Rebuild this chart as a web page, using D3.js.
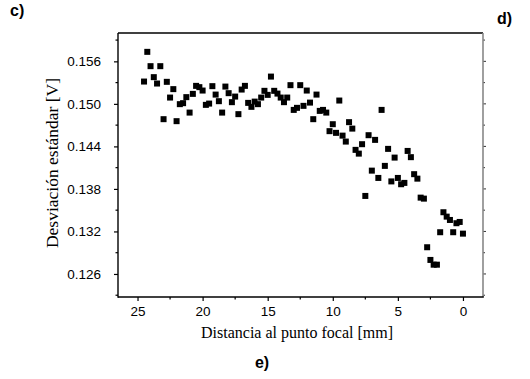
<!DOCTYPE html>
<html lang="es">
<head>
  <meta charset="UTF-8" />
  <title>Desviación estándar vs distancia al punto focal</title>
  <script src="https://cdn.jsdelivr.net/npm/d3@7/dist/d3.min.js"></script>
  <style>
    html, body { margin: 0; padding: 0; background: #fff; }
    #chart { width: 530px; height: 379px; }
    .tick-label { font-family: "Liberation Sans", Arial, sans-serif; font-size: 13.5px; fill: #000; }
    .axis-title { font-family: "Liberation Serif", "Times New Roman", serif; fill: #000; }
    .panel-label { font-family: "Liberation Sans", Arial, sans-serif; font-size: 16px; font-weight: bold; fill: #000; }
  </style>
</head>
<body>
  <div id="chart"></div>
  <script>
    // distancia al punto focal [mm]
    const distancia = [
      24.5, 24.25, 24, 23.75, 23.5, 23.25, 23, 22.75, 22.5, 22.25,
      22, 21.75, 21.5, 21.25, 21, 20.75, 20.5, 20.25, 20, 19.75,
      19.5, 19.25, 19, 18.75, 18.5, 18.25, 18, 17.75, 17.5, 17.25,
      17, 16.75, 16.5, 16.25, 16, 15.75, 15.5, 15.25, 15, 14.75,
      14.5, 14.25, 14, 13.75, 13.5, 13.25, 13, 12.75, 12.5, 12.25,
      12, 11.75, 11.5, 11.25, 11, 10.75, 10.5, 10.25, 10, 9.75,
      9.5, 9.25, 9, 8.75, 8.5, 8.25, 8, 7.75, 7.5, 7.25,
      7, 6.75, 6.5, 6.25, 6, 5.75, 5.5, 5.25, 5, 4.75,
      4.5, 4.25, 4, 3.75, 3.5, 3.25, 3, 2.75, 2.5, 2.25,
      2, 1.75, 1.5, 1.25, 1, 0.75, 0.5, 0.25, 0
    ];

    // desviación estándar [V]
    const desviacion = [
      0.15315, 0.15734, 0.15532, 0.15377, 0.15287, 0.15532, 0.14784, 0.15311, 0.15089, 0.15208,
      0.14756, 0.14996, 0.15010, 0.15095, 0.14877, 0.15141, 0.15254, 0.15236, 0.15188, 0.14986,
      0.15004, 0.15250, 0.15131, 0.15038, 0.14877, 0.15244, 0.15151, 0.15024, 0.15103, 0.14855,
      0.15202, 0.15254, 0.15014, 0.14958, 0.15032, 0.14996, 0.15089, 0.15184, 0.15127, 0.15385,
      0.15184, 0.15145, 0.15089, 0.15024, 0.15089, 0.15264, 0.14915, 0.14944, 0.15264, 0.14972,
      0.15188, 0.15018, 0.14784, 0.15131, 0.14901, 0.14915, 0.14877, 0.14615, 0.14713, 0.14591,
      0.15047, 0.14552, 0.14468, 0.14742, 0.14651, 0.14351, 0.14298, 0.14431, 0.13701, 0.14558,
      0.14058, 0.14492, 0.13955, 0.14915, 0.14125, 0.14365, 0.13906, 0.14242, 0.13955, 0.13866,
      0.13885, 0.14336, 0.14248, 0.14008, 0.13945, 0.13677, 0.13663, 0.12977, 0.12798, 0.12731,
      0.12731, 0.13189, 0.13471, 0.13409, 0.13362, 0.13189, 0.13316, 0.13334, 0.13169
    ];

    // ticks
    const xTicks = [25, 20, 15, 10, 5, 0];
    const xMinorTicks = [22.5, 17.5, 12.5, 7.5, 2.5];
    const yTicks = [0.126, 0.132, 0.138, 0.144, 0.150, 0.156];
    const yMinorTicks = [0.123, 0.129, 0.135, 0.141, 0.147, 0.153, 0.159];

    const width = 530, height = 379;
    const pLeft = 118, pRight = 483, pTop = 33, pBottom = 297;

    const svg = d3.select("#chart").append("svg")
      .attr("width", width)
      .attr("height", height);

    const x = d3.scaleLinear().domain([26.5, -1.54]).range([pLeft, pRight]);
    const y = d3.scaleLinear().domain([0.16, 0.12275]).range([pTop, pBottom]);

    // ejes (ticks hacia afuera)
    const xAxis = d3.axisBottom(x).tickValues(xTicks).tickSize(4).tickPadding(5).tickFormat(d3.format("d"));
    const yAxis = d3.axisLeft(y).tickValues(yTicks).tickSize(4).tickPadding(13).tickFormat(d3.format(".3f"));

    const gx = svg.append("g").attr("transform", `translate(0,${pBottom})`).call(xAxis);
    const gy = svg.append("g").attr("transform", `translate(${pLeft},0)`).call(yAxis);

    [gx, gy].forEach(g => {
      g.attr("font-size", null).attr("font-family", null);
      g.select(".domain").remove();
      g.selectAll(".tick line").attr("stroke", "#000").attr("stroke-width", 1.2);
      g.selectAll(".tick text").attr("class", "tick-label");
    });

    // ticks menores
    svg.append("g").selectAll("line").data(xMinorTicks).join("line")
      .attr("x1", d => x(d)).attr("x2", d => x(d))
      .attr("y1", pBottom).attr("y2", pBottom + 2.5)
      .attr("stroke", "#000").attr("stroke-width", 1.2);
    svg.append("g").selectAll("line").data(yMinorTicks).join("line")
      .attr("x1", pLeft - 2.5).attr("x2", pLeft)
      .attr("y1", d => y(d)).attr("y2", d => y(d))
      .attr("stroke", "#000").attr("stroke-width", 1.2);

    // eje derecho espejo
    const gr = svg.append("g");
    gr.append("g").selectAll("line").data(yTicks).join("line")
      .attr("x1", pRight).attr("x2", pRight + 3)
      .attr("y1", d => y(d)).attr("y2", d => y(d))
      .attr("stroke", "#333").attr("stroke-width", 1);
    gr.append("g").selectAll("line").data(yMinorTicks).join("line")
      .attr("x1", pRight).attr("x2", pRight + 2)
      .attr("y1", d => y(d)).attr("y2", d => y(d))
      .attr("stroke", "#333").attr("stroke-width", 1);

    // marco
    svg.append("line").attr("x1", pLeft).attr("x2", pRight).attr("y1", pTop).attr("y2", pTop)
      .attr("stroke", "#000").attr("stroke-width", 1.3);
    svg.append("line").attr("x1", pRight).attr("x2", pRight).attr("y1", pTop).attr("y2", pBottom)
      .attr("stroke", "#888").attr("stroke-width", 1.6);
    svg.append("line").attr("x1", pLeft).attr("x2", pLeft).attr("y1", pTop).attr("y2", pBottom + 0.7)
      .attr("stroke", "#000").attr("stroke-width", 1.4);
    svg.append("line").attr("x1", pLeft).attr("x2", pRight + 0.8).attr("y1", pBottom).attr("y2", pBottom)
      .attr("stroke", "#000").attr("stroke-width", 1.4);

    // puntos
    const s = 6;
    svg.append("g").selectAll("rect").data(distancia).join("rect")
      .attr("x", d => x(d) - s / 2)
      .attr("y", (d, i) => y(desviacion[i]) - s / 2)
      .attr("width", s).attr("height", s)
      .attr("fill", "#000");

    // títulos
    svg.append("text").attr("class", "axis-title").attr("font-size", 16)
      .attr("x", 297).attr("y", 338).attr("text-anchor", "middle")
      .text("Distancia al punto focal [mm]");
    svg.append("text").attr("class", "axis-title").attr("font-size", 17.5)
      .attr("transform", "translate(58,163) rotate(-90)").attr("text-anchor", "middle")
      .text("Desviación estándar [V]");

    // etiquetas de panel
    svg.append("text").attr("class", "panel-label").attr("x", 10).attr("y", 16).text("c)");
    svg.append("text").attr("class", "panel-label").attr("x", 497).attr("y", 24).text("d)");
    svg.append("text").attr("class", "panel-label").attr("x", 262).attr("y", 368).attr("text-anchor", "middle").text("e)");
  </script>
</body>
</html>
